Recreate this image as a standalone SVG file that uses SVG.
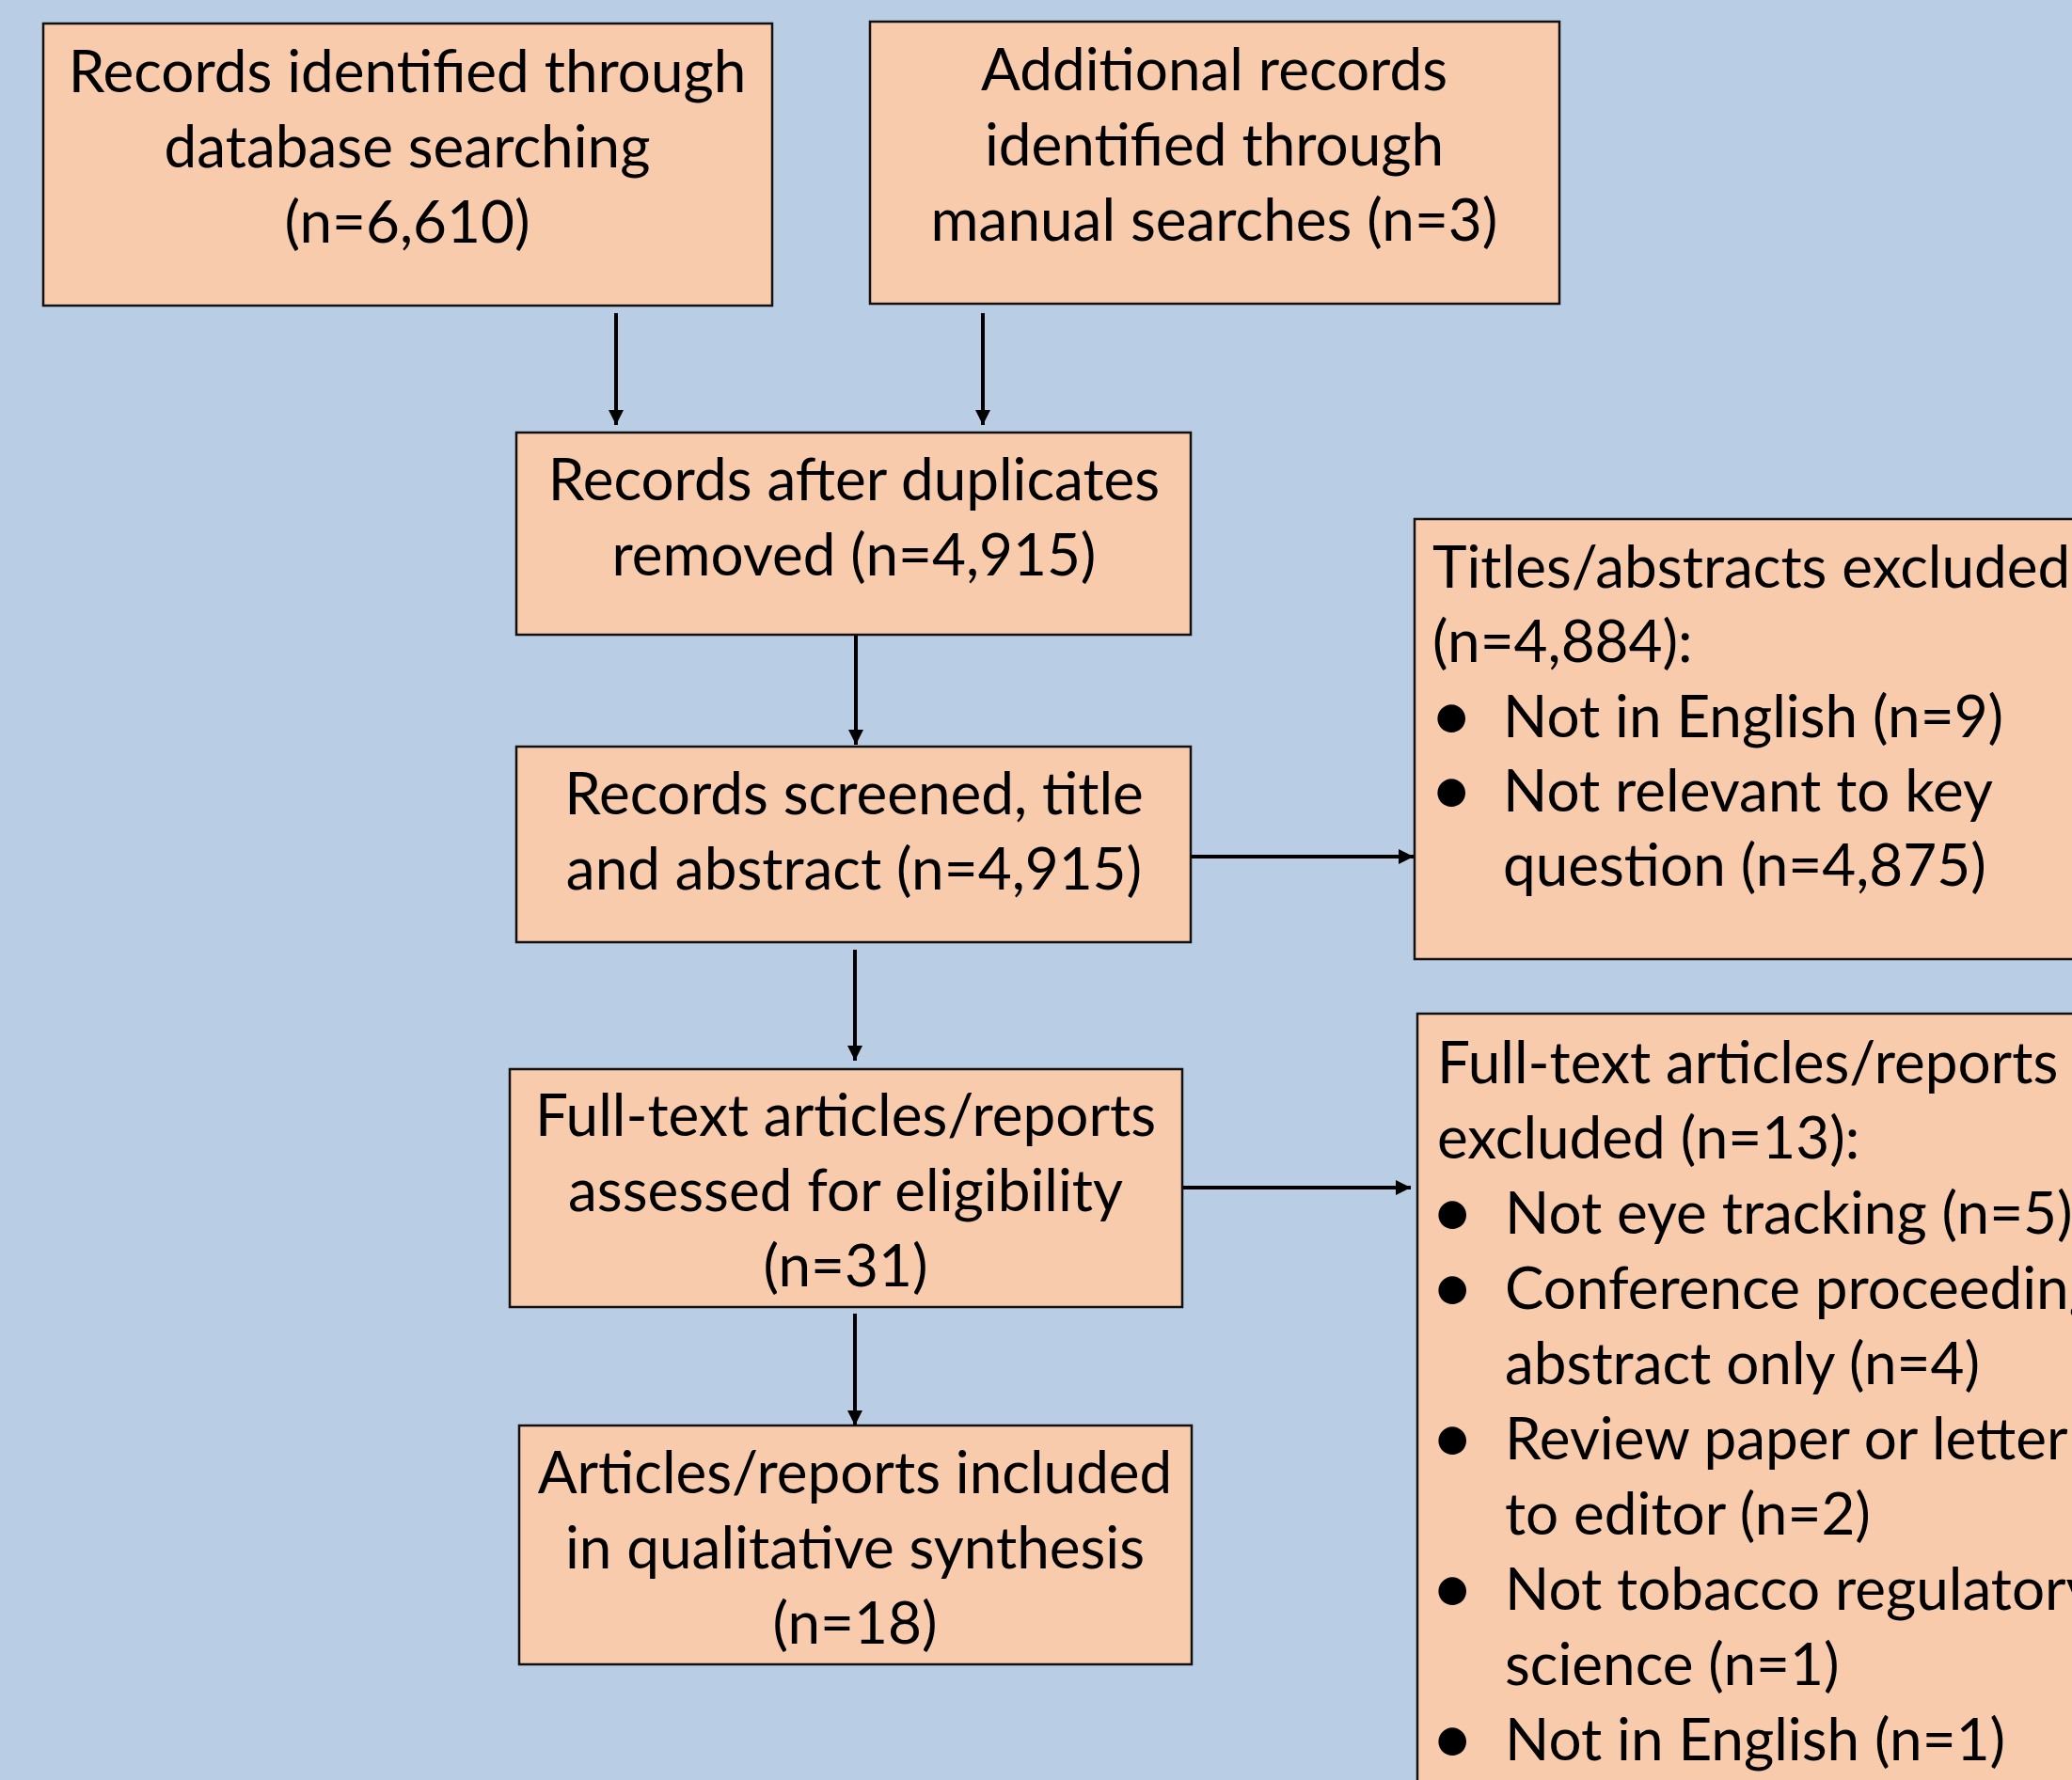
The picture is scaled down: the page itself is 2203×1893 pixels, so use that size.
<svg xmlns="http://www.w3.org/2000/svg" width="2203" height="1893" viewBox="0 0 2203 1893">
<defs>
<style>
.box{fill:#F8CBAD;stroke:#111;stroke-width:2.5}
.t{font-family:Lato,"Liberation Sans",sans-serif;font-size:62px;fill:#000}
.b{font-family:Lato,"Liberation Sans",sans-serif;font-size:80px;fill:#000}
.c{text-anchor:middle}
.conn line{stroke:#000;stroke-width:4}
</style>
<marker id="ah" viewBox="0 0 10 10" refX="10" refY="5" markerWidth="4.5" markerHeight="4" markerUnits="strokeWidth" orient="auto">
<path d="M0,0 L10,5 L0,10 z" fill="#000"/>
</marker>
</defs>
<rect width="2203" height="1893" fill="#B9CDE5"/>
<g id="n1">
<rect class="box" x="46" y="25" width="775" height="300"/>
<text class="t c" x="433" y="98">Records identified through</text>
<text class="t c" x="433" y="178">database searching</text>
<text class="t c" x="433" y="258">(n=6,610)</text>
</g>
<g id="n2">
<rect class="box" x="925" y="23" width="733" height="300"/>
<text class="t c" x="1291" y="96">Additional records</text>
<text class="t c" x="1291" y="176">identified through</text>
<text class="t c" x="1291" y="256">manual searches (n=3)</text>
</g>
<g id="n3">
<rect class="box" x="549" y="460" width="717" height="215"/>
<text class="t c" x="908" y="532">Records after duplicates</text>
<text class="t c" x="908" y="612">removed (n=4,915)</text>
</g>
<g id="n4">
<rect class="box" x="549" y="794" width="717" height="208"/>
<text class="t c" x="908" y="866">Records screened, title</text>
<text class="t c" x="908" y="946">and abstract (n=4,915)</text>
</g>
<g id="n5">
<rect class="box" x="542" y="1137" width="715" height="253"/>
<text class="t c" x="899" y="1208">Full-text articles/reports</text>
<text class="t c" x="899" y="1288">assessed for eligibility</text>
<text class="t c" x="899" y="1368">(n=31)</text>
</g>
<g id="n6">
<rect class="box" x="552" y="1516" width="715" height="254"/>
<text class="t c" x="909" y="1588">Articles/reports included</text>
<text class="t c" x="909" y="1668">in qualitative synthesis</text>
<text class="t c" x="909" y="1748">(n=18)</text>
</g>
<g id="n7">
<rect class="box" x="1504" y="552" width="720" height="468"/>
<text class="t" x="1523" y="625">Titles/abstracts excluded</text>
<text class="t" x="1523" y="704">(n=4,884):</text>
<text class="b" x="1520" y="788">•</text><text class="t" x="1598" y="784">Not in English (n=9)</text>
<text class="b" x="1520" y="867">•</text><text class="t" x="1598" y="863">Not relevant to key</text>
<text class="t" x="1598" y="942">question (n=4,875)</text>
</g>
<g id="n8">
<rect class="box" x="1507" y="1078" width="720" height="840"/>
<text class="t" x="1528" y="1152">Full-text articles/reports</text>
<text class="t" x="1528" y="1232">excluded (n=13):</text>
<text class="b" x="1521" y="1316">•</text><text class="t" x="1600" y="1312">Not eye tracking (n=5)</text>
<text class="b" x="1521" y="1396">•</text><text class="t" x="1600" y="1392">Conference proceeding,</text>
<text class="t" x="1600" y="1472">abstract only (n=4)</text>
<text class="b" x="1521" y="1556">•</text><text class="t" x="1600" y="1552">Review paper or letter</text>
<text class="t" x="1600" y="1632">to editor (n=2)</text>
<text class="b" x="1521" y="1716">•</text><text class="t" x="1600" y="1712">Not tobacco regulatory</text>
<text class="t" x="1600" y="1792">science (n=1)</text>
<text class="b" x="1521" y="1876">•</text><text class="t" x="1600" y="1872">Not in English (n=1)</text>
</g>
<g id="connectors" class="conn">
<line x1="655" y1="333" x2="655" y2="452" marker-end="url(#ah)"/>
<line x1="1045" y1="333" x2="1045" y2="452" marker-end="url(#ah)"/>
<line x1="910" y1="676" x2="910" y2="792" marker-end="url(#ah)"/>
<line x1="1267" y1="911" x2="1503" y2="911" marker-end="url(#ah)"/>
<line x1="909" y1="1010" x2="909" y2="1128" marker-end="url(#ah)"/>
<line x1="1258" y1="1263" x2="1500" y2="1263" marker-end="url(#ah)"/>
<line x1="909" y1="1397" x2="909" y2="1516" marker-end="url(#ah)"/>
</g>
</svg>
